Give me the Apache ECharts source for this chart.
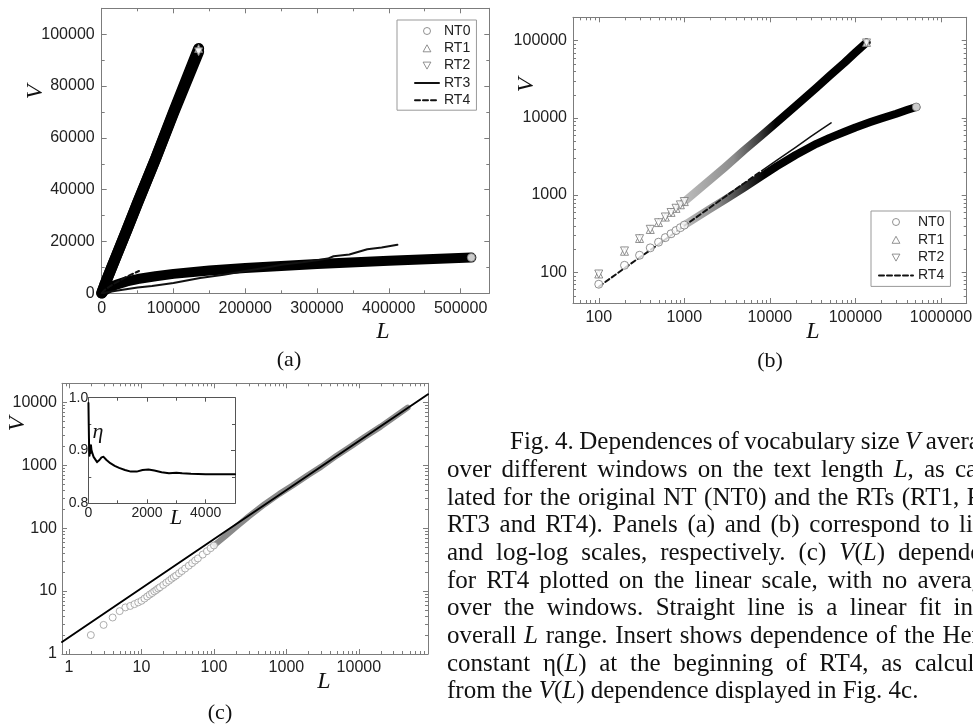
<!DOCTYPE html>
<html>
<head>
<meta charset="utf-8">
<title>V(L) dependences</title>
<script src="https://cdn.jsdelivr.net/npm/echarts@6/dist/echarts.min.js"></script>
<style>
  html, body { margin: 0; padding: 0; background: #fff; }
  #main { width: 973px; height: 727px; }
</style>
</head>
<body>
<div id="main"></div>
<script>
// ---- data ----
// RT1 / RT2 (shuffled texts), averaged over windows
var rt1L = [100, 200, 300, 400, 500, 600, 700, 800, 900, 1000, 1500, 2000, 3000, 5000, 8000, 12000, 20000, 35000, 50000, 75000, 100000, 135000];
var rt1V = [95, 187, 274, 358, 440, 518, 596, 672, 748, 822, 1200, 1570, 2300, 3800, 5900, 8700, 14200, 24500, 35000, 52000, 70000, 94500];
var rt2L = [100, 200, 300, 400, 500, 600, 700, 800, 900, 1000, 1500, 2000, 3000, 5000, 8000, 12000, 20000, 35000, 50000, 75000, 100000, 135000];
var rt2V = [95, 189, 272, 360, 438, 520, 594, 674, 746, 824, 1190, 1560, 2310, 3790, 5900, 8650, 14100, 24400, 34800, 51800, 69500, 93200];
// NT0 (original text)
var nt0L = [100, 200, 300, 400, 500, 600, 700, 800, 900, 1000, 1500, 2000, 3000, 5000, 8000, 12000, 20000, 35000, 50000, 75000, 100000, 150000, 200000, 300000, 400000, 515000];
var nt0V = [70, 123, 166, 207, 245, 281, 315, 347, 378, 408, 540, 660, 870, 1250, 1750, 2350, 3300, 4600, 5500, 6600, 7500, 8800, 9800, 11300, 12600, 13800];
// RT3
var rt3L = [0, 20000, 50000, 70000, 100000, 137000, 170000, 200000, 230000, 253000, 280000, 300000, 315000, 323000, 345000, 370000, 390000, 412000];
var rt3V = [0, 1000, 2200, 2800, 4000, 5900, 7200, 8600, 10000, 11100, 12000, 12800, 13400, 14300, 15000, 17000, 17700, 18700];
// RT4
var rt4L = [100, 200, 300, 500, 1000, 2000, 3000, 5000, 8000, 12000, 20000, 30000, 40000, 52000];
var rt4V = [65, 113, 155, 230, 400, 690, 950, 1420, 2050, 2800, 4150, 5700, 7100, 8600];
// panel (c): RT4 without averaging, and the linear fit
var cL = [2, 3, 4, 5, 6, 7, 8, 9, 10, 11, 12, 13, 14, 15, 16, 17, 18, 20, 22, 24, 26, 28, 30, 33, 36, 40, 45, 50, 55, 60, 70, 80, 90, 100, 120, 150, 200, 300, 500, 800, 1200, 2000, 3000, 5000, 8000, 12000, 20000, 30000, 47000];
var cV = [2, 2.9, 3.8, 4.8, 5.5, 5.8, 6.2, 6.6, 7.0, 7.6, 8.2, 8.8, 9.3, 9.9, 10.4, 11, 11.5, 12.5, 13.6, 14.6, 15.7, 16.7, 17.6, 19.2, 20.8, 22.8, 25.3, 27.8, 30.5, 33, 38, 43, 48, 53, 63, 78, 103, 152, 240, 350, 470, 700, 940, 1430, 2030, 2800, 4100, 5700, 8200];
var fitL = [0.8, 90000];
var fitV = [1.55, 13400];
// inset: eta(L)
var etaL = [5, 15, 25, 40, 55, 70, 90, 110, 140, 180, 230, 300, 380, 450, 520, 620, 750, 900, 1050, 1250, 1450, 1650, 1850, 2050, 2250, 2500, 2750, 3000, 3200, 3500, 4000, 4500, 5000];
var etaV = [0.99, 0.95, 0.915, 0.89, 0.905, 0.895, 0.91, 0.9, 0.897, 0.888, 0.885, 0.878, 0.882, 0.887, 0.888, 0.882, 0.876, 0.871, 0.867, 0.863, 0.86, 0.86, 0.863, 0.864, 0.862, 0.859, 0.857, 0.858, 0.857, 0.856, 0.855, 0.855, 0.855];

// tick labels
var aXLabels = [0, 100000, 200000, 300000, 400000, 500000];
var aYLabels = [0, 20000, 40000, 60000, 80000, 100000];
var bXLabels = [100, 1000, 10000, 100000, 1000000];
var bYLabels = [100, 1000, 10000, 100000];
var cXLabels = [1, 10, 100, 1000, 10000];
var cYLabels = [1, 10, 100, 1000, 10000];
var insXLabels = [0, 2000, 4000];
var insYLabels = [0.8, 0.9, 1.0];

var captionLines = [
  'Fig. 4. Dependences of vocabulary size _V_ averaged',
  'over different windows on the text length _L_, as calcu-',
  'lated for the original NT (NT0) and the RTs (RT1, RT2,',
  'RT3 and RT4). Panels (a) and (b) correspond to linear',
  'and log-log scales, respectively. (c) _V_(_L_) dependence',
  'for RT4 plotted on the linear scale, with no averaging',
  'over the windows. Straight line is a linear fit in the',
  'overall _L_ range. Insert shows dependence of the Herdan',
  'constant η(_L_) at the beginning of RT4, as calculated',
  'from the _V_(_L_) dependence displayed in Fig. 4c.'
];

// ---- helpers ----
var FRAME = '#7c7c7c';
var TXT = '#222';

function zip(xs, ys) { return xs.map(function (x, i) { return [x, ys[i]]; }); }
function upTo(xs, ys, lim) { return zip(xs, ys).filter(function (p) { return p[0] <= lim; }); }
function from(xs, ys, lim) { return zip(xs, ys).filter(function (p) { return p[0] >= lim; }); }
function lastOf(xs, ys) { return [[xs[xs.length - 1], ys[ys.length - 1]]]; }

function pick(list, digits) {
  return function (v) {
    for (var i = 0; i < list.length; i++) {
      if (Math.abs(v - list[i]) <= Math.abs(list[i]) * 1e-6 + 1e-9) {
        return digits != null ? list[i].toFixed(digits) : String(list[i]);
      }
    }
    return '';
  };
}

function logMinor(lo, hi) {
  var out = [];
  for (var e = -1; e <= 6; e++) {
    for (var k = 2; k <= 9; k++) {
      var t = +(k * Math.pow(10, e)).toPrecision(3);
      if (t > lo && t < hi) out.push(t);
    }
  }
  return out;
}

function mkAxis(grid, pos, c) {
  var labelsOn = pos === 'bottom' || pos === 'left';
  var col = c.color || FRAME;
  return {
    type: c.type || 'value', gridIndex: grid, position: pos,
    min: c.min, max: c.max, interval: c.interval, logBase: 10,
    axisLine: { show: true, onZero: false, lineStyle: { color: col, width: 1 } },
    axisTick: { show: true, inside: true, length: c.tick || 5, lineStyle: { color: col } },
    minorTick: { show: !!c.minor, splitNumber: c.minor || 2, length: 3, lineStyle: { color: col } },
    splitLine: { show: false },
    axisLabel: {
      show: labelsOn, margin: c.margin, fontFamily: 'Liberation Sans', fontSize: c.fs || 16,
      color: TXT, formatter: pick(c.labels || [], c.digits), hideOverlap: false
    }
  };
}

function hollow(sym, size, rot, col) {
  return {
    symbol: sym, symbolSize: size, symbolRotate: rot || 0,
    itemStyle: { color: '#fff', borderColor: col || '#777', borderWidth: 1 }
  };
}

function scatter(name, xi, data, sym, size, rot, col) {
  var s = hollow(sym, size, rot, col);
  s.type = 'scatter'; s.name = name; s.xAxisIndex = xi; s.yAxisIndex = xi;
  s.data = data; s.z = 4; s.silent = true;
  return s;
}

function line(name, xi, data, width, color, type, z) {
  return {
    type: 'line', name: name, xAxisIndex: xi, yAxisIndex: xi, data: data,
    symbol: 'none', silent: true, z: z || 3, animation: false,
    itemStyle: { color: '#111' },
    lineStyle: { width: width, color: color, type: type || 'solid', cap: 'round', join: 'round' }
  };
}

// minor ticks of a log axis, drawn on both edges of the plot frame
function minorTicks(xi, vals, dir, ref) {
  return {
    type: 'custom', xAxisIndex: xi, yAxisIndex: xi, silent: true, z: 1,
    data: vals.map(function (t) { return dir === 'x' ? [t, ref] : [ref, t]; }),
    renderItem: function (params, api) {
      var cs = params.coordSys;
      var p = api.coord([api.value(0), api.value(1)]);
      var st = { stroke: FRAME, lineWidth: 1 };
      var a, b;
      if (dir === 'x') {
        var x = Math.round(p[0]) + 0.5;
        a = { x1: x, y1: cs.y + cs.height, x2: x, y2: cs.y + cs.height - 3 };
        b = { x1: x, y1: cs.y, x2: x, y2: cs.y + 3 };
      } else {
        var y = Math.round(p[1]) + 0.5;
        a = { x1: cs.x, y1: y, x2: cs.x + 3, y2: y };
        b = { x1: cs.x + cs.width, y1: y, x2: cs.x + cs.width - 3, y2: y };
      }
      return { type: 'group', children: [
        { type: 'line', shape: a, style: st },
        { type: 'line', shape: b, style: st }
      ] };
    }
  };
}

var chart = echarts.init(document.getElementById('main'));

// ---- axes ----
var aX = { min: 0, max: 540000, interval: 100000, minor: 2, labels: aXLabels, margin: 7 };
var aY = { min: 0, max: 110000, interval: 20000, minor: 2, labels: aYLabels, margin: 7 };
var bX = { type: 'log', min: 50, max: 2000000, labels: bXLabels, margin: 7 };
var bY = { type: 'log', min: 40, max: 200000, labels: bYLabels, margin: 6 };
var cX = { type: 'log', min: 0.8, max: 90000, labels: cXLabels, margin: 6 };
var cY = { type: 'log', min: 1, max: 20000, labels: cYLabels, margin: 5 };
var iX = { min: 0, max: 5000, interval: 2000, minor: 2, labels: insXLabels, margin: 3, fs: 14, color: '#555', tick: 4 };
var iY = { min: 0.8, max: 1.0, interval: 0.1, minor: 2, labels: insYLabels, digits: 1, margin: 0, fs: 14, color: '#555', tick: 4 };

var xAxes = [], yAxes = [];
[[aX, aY], [bX, bY], [cX, cY], [iX, iY]].forEach(function (p, g) {
  xAxes.push(mkAxis(g, 'bottom', p[0]));
  xAxes.push(mkAxis(g, 'top', p[0]));
  yAxes.push(mkAxis(g, 'left', p[1]));
  yAxes.push(mkAxis(g, 'right', p[1]));
});
// series use the bottom/left axis of each grid: index 2*g
var A = 0, B = 2, C = 4, I = 6;

// ---- series ----
var bandRT = new echarts.graphic.LinearGradient(0, 0, 1, 0, [
  { offset: 0, color: '#c0c0c0' }, { offset: 0.28, color: '#8c8c8c' },
  { offset: 0.42, color: '#3a3a3a' }, { offset: 0.5, color: '#000' }, { offset: 1, color: '#000' }
]);
var bandNT = new echarts.graphic.LinearGradient(0, 0, 1, 0, [
  { offset: 0, color: '#c0c0c0' }, { offset: 0.15, color: '#8c8c8c' },
  { offset: 0.27, color: '#333' }, { offset: 0.35, color: '#000' }, { offset: 1, color: '#000' }
]);

var series = [
  // panel (a)
  scatter('NT0', A, lastOf(nt0L, nt0V), 'circle', 8),
  scatter('RT1', A, lastOf(rt1L, rt1V), 'triangle', 8),
  scatter('RT2', A, lastOf(rt2L, rt2V), 'triangle', 8, 180),
  line('RT3', A, zip(rt3L, rt3V), 2, '#111'),
  line('RT4', A, zip(rt4L, rt4V), 2, '#111', [5, 3]),
  line('a-rt1', A, zip(rt1L, rt1V), 11, '#000', 'solid', 2),
  line('a-rt2', A, zip(rt2L, rt2V), 11, '#000', 'solid', 2),
  line('a-nt0', A, zip(nt0L, nt0V), 10, '#000', 'solid', 2),

  // panel (b)
  line('b-rt1', B, from(rt1L, rt1V, 1000), 8, bandRT, 'solid', 2),
  line('b-nt0', B, from(nt0L, nt0V, 1000), 8, bandNT, 'solid', 2),
  line('RT4', B, upTo(rt4L, rt4V, 8000), 2, '#111', [5, 3]),
  line('b-rt4-tail', B, from(rt4L, rt4V, 8000), 1.5, '#111'),
  scatter('NT0', B, upTo(nt0L, nt0V, 1000).concat(lastOf(nt0L, nt0V)), 'circle', 8),
  scatter('RT1', B, upTo(rt1L, rt1V, 1000).concat(lastOf(rt1L, rt1V)), 'triangle', 8),
  scatter('RT2', B, upTo(rt2L, rt2V, 1000).concat(lastOf(rt2L, rt2V)), 'triangle', 8, 180),
  minorTicks(B, logMinor(50, 2000000), 'x', 100),
  minorTicks(B, logMinor(40, 200000), 'y', 100),

  // panel (c)
  line('c-band', C, from(cL, cV, 100), 6, '#8a8a8a', 'solid', 2),
  scatter('c-pts', C, upTo(cL, cV, 100), 'circle', 7, 0, '#999'),
  line('c-fit', C, zip(fitL, fitV), 2, '#000', 'solid', 5),
  minorTicks(C, logMinor(0.8, 90000), 'x', 10),
  minorTicks(C, logMinor(1, 20000), 'y', 10),

  // inset
  line('eta', I, zip(etaL, etaV), 2, '#000', 'solid', 6)
];

// ---- texts: axis titles, panel tags, caption ----
var serif = '"Liberation Serif", "Times New Roman", serif';
var graphics = [];
function label(t, x, y, fs, italic, rot) {
  graphics.push({
    type: 'text', x: x, y: y, rotation: rot ? Math.PI / 2 : 0, z: 10,
    style: {
      text: t, fill: '#111', fontFamily: serif, fontSize: fs, fontStyle: italic ? 'italic' : 'normal',
      align: 'center', verticalAlign: 'middle', textAlign: 'center', textVerticalAlign: 'middle'
    }
  });
}
label('V', 36, 92, 24, true, true);
label('L', 383, 332, 24, true);
label('V', 527, 85, 24, true, true);
label('L', 813, 332, 24, true);
label('V', 18, 424, 24, true, true);
label('L', 324, 682, 24, true);
label('η', 98, 432, 22, true);
label('L', 176, 518, 22, true);
label('(a)', 289, 360, 22);
label('(b)', 770, 361, 22);
label('(c)', 220, 713, 22);

// justified caption, one text element per word
var CAP_FS = 25, CAP_LEFT = 447, CAP_INDENT = 510, CAP_RIGHT = 1016, CAP_Y0 = 442.6, CAP_STEP = 27.7;
var ctx = document.createElement('canvas').getContext('2d');
function wordWidth(w) {
  var parts = w.split('_'), s = 0;
  parts.forEach(function (p, i) {
    ctx.font = (i % 2 ? 'italic ' : '') + CAP_FS + 'px ' + serif;
    s += ctx.measureText(p).width;
  });
  return s;
}
function wordRich(w) {
  return w.split('_').map(function (p, i) { return i % 2 ? '{i|' + p + '}' : p; }).join('');
}
ctx.font = CAP_FS + 'px ' + serif;
var spaceW = ctx.measureText(' ').width;
captionLines.forEach(function (ln, li) {
  var words = ln.split(' ');
  var widths = words.map(wordWidth);
  var total = widths.reduce(function (a, b) { return a + b; }, 0);
  var x = li === 0 ? CAP_INDENT : CAP_LEFT;
  var gap = li === captionLines.length - 1 ? spaceW : (CAP_RIGHT - x - total) / (words.length - 1);
  var y = CAP_Y0 + li * CAP_STEP;
  words.forEach(function (w, wi) {
    graphics.push({
      type: 'text', x: x, y: y, z: 10, silent: true,
      style: {
        text: wordRich(w), fill: '#111', fontFamily: serif, fontSize: CAP_FS,
        align: 'left', verticalAlign: 'middle', textAlign: 'left', textVerticalAlign: 'middle',
        rich: { i: { fontStyle: 'italic', fontFamily: serif, fontSize: CAP_FS, fill: '#111' } }
      }
    });
    x += widths[wi] + gap;
  });
});

var legendText = { fontFamily: 'Liberation Sans', fontSize: 14, color: TXT, lineHeight: 14 };
var UP = 'path://M5,0 L10,9 L0,9 Z';
var DOWN = 'path://M0,0 L10,0 L5,9 Z';
var noSym = { opacity: 0, color: 'transparent', borderColor: 'transparent' };

chart.setOption({
  animation: false,
  backgroundColor: '#fff',
  grid: [
    { left: 101.7, top: 8.3, width: 387.6, height: 285, outerBoundsMode: 'none' },
    { left: 573, top: 17.3, width: 393.7, height: 285.7, outerBoundsMode: 'none' },
    { left: 62, top: 383.3, width: 366, height: 270.7, outerBoundsMode: 'none' },
    { left: 88.3, top: 397.7, width: 146.7, height: 105.6, outerBoundsMode: 'none',
      show: true, backgroundColor: '#fff', borderWidth: 0 }
  ],
  xAxis: xAxes,
  yAxis: yAxes,
  legend: [
    {
      orient: 'vertical', left: 397, top: 20, selectedMode: false, align: 'left',
      data: ['NT0', { name: 'RT1', icon: UP }, { name: 'RT2', icon: DOWN },
        { name: 'RT3', itemStyle: noSym }, { name: 'RT4', itemStyle: noSym }],
      itemWidth: 24, itemHeight: 7, itemGap: 3.3, padding: [4, 6, 3, 17],
      borderColor: '#999', borderWidth: 1, backgroundColor: '#fff',
      itemStyle: { borderWidth: 1 }, textStyle: legendText
    },
    {
      orient: 'vertical', left: 871, top: 211, selectedMode: false, align: 'left',
      data: ['NT0', { name: 'RT1', icon: UP }, { name: 'RT2', icon: DOWN },
        { name: 'RT4', itemStyle: noSym }],
      itemWidth: 34, itemHeight: 7, itemGap: 3.8, padding: [4, 6, 4, 7],
      borderColor: '#999', borderWidth: 1, backgroundColor: '#fff',
      itemStyle: { borderWidth: 1 }, textStyle: legendText
    }
  ],
  series: series,
  graphic: { elements: graphics }
});
</script>
</body>
</html>
